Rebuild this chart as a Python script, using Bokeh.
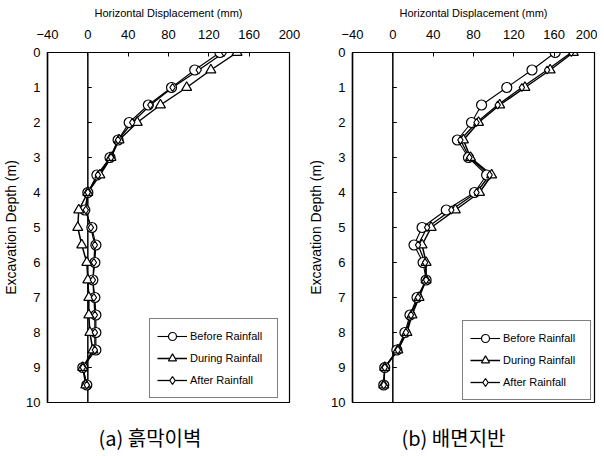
from bokeh.plotting import figure
from bokeh.layouts import row
from bokeh.models import Range1d, FixedTicker, Span, Legend, LegendItem
from bokeh.embed import file_html
from bokeh.resources import INLINE

# ---- data ----
depth = [0, 0.5, 1, 1.5, 2, 2.5, 3, 3.5, 4, 4.5, 5, 5.5, 6, 6.5, 7, 7.5, 8, 8.5, 9, 9.5]

before_a = [131, 106, 83, 60, 41, 30, 22, 9, 0, -3, 4, 8, 7, 5, 7, 8, 8, 8, -5, -1]
during_a = [148, 122, 98, 72, 49, 31, 23, 12, 0, -9, -10, -6, -1, 0, 1, 1, 2, 5, -5, -2]
after_a = [135, 110, 84, 62, 44, 30, 23, 10, 0, -2, 3, 7, 6, 5, 6, 7, 7, 7, -5, -1]

before_b = [161, 138, 113, 88, 78, 64, 75, 93, 81, 53, 29, 21, 30, 33, 24, 17, 12, 4, -8, -9]
during_b = [179, 156, 131, 106, 85, 70, 77, 98, 86, 62, 38, 29, 33, 33, 26, 19, 14, 5, -8, -9]
after_b = [177, 153, 128, 104, 83, 67, 76, 96, 83, 58, 34, 25, 32, 33, 25, 18, 13, 5, -8, -9]

x_ticks = [-40, 0, 40, 80, 120, 160, 200]
y_ticks = [0, 1, 2, 3, 4, 5, 6, 7, 8, 9, 10]
series_labels = ["Before Rainfall", "During Rainfall", "After Rainfall"]
captions = ["(a) 흙막이벽", "(b) 배면지반"]

FONT = "Liberation Sans"


def make_panel(before, during, after, caption, border_left, border_right,
               legend_loc, title_offset):
    p = figure(frame_width=242, frame_height=350,
               x_range=Range1d(-40, 200), y_range=Range1d(10, 0),
               x_axis_location="above",
               output_backend="svg", toolbar_location=None,
               title=caption, title_location="below",
               min_border_left=border_left, min_border_right=border_right,
               min_border_top=52, min_border_bottom=0)
    p.background_fill_color = "white"
    p.border_fill_color = "white"
    p.outline_line_color = "black"
    p.outline_line_width = 1.2
    p.xgrid.visible = False
    p.ygrid.visible = False

    # caption below the frame
    p.title.align = "left"
    p.title.offset = title_offset
    p.title.text_font = "Noto Sans CJK KR"
    p.title.text_font_size = "20px"
    p.title.text_font_style = "normal"
    p.title.text_color = "black"
    p.title.standoff = 37

    xa = p.xaxis[0]
    xa.ticker = FixedTicker(ticks=x_ticks)
    xa.axis_label = "Horizontal Displacement (mm)"
    xa.axis_label_text_font = FONT
    xa.axis_label_text_font_size = "11px"
    xa.axis_label_text_font_style = "normal"
    xa.axis_label_text_color = "black"
    xa.axis_label_standoff = 8
    xa.major_label_text_font = FONT
    xa.major_label_text_font_size = "13px"
    xa.major_label_text_color = "black"
    xa.major_label_standoff = 14
    xa.major_tick_in = 4
    xa.major_tick_out = 0
    xa.minor_tick_in = 0
    xa.minor_tick_out = 0
    xa.axis_line_color = "black"
    xa.major_tick_line_color = "black"

    ya = p.yaxis[0]
    ya.ticker = FixedTicker(ticks=y_ticks)
    ya.axis_label = "Excavation Depth (m)"
    ya.axis_label_text_font = FONT
    ya.axis_label_text_font_size = "14px"
    ya.axis_label_text_font_style = "normal"
    ya.axis_label_text_color = "black"
    ya.axis_label_standoff = 4
    ya.major_label_text_font = FONT
    ya.major_label_text_font_size = "13px"
    ya.major_label_text_color = "black"
    ya.major_label_standoff = 7
    ya.major_tick_in = 0
    ya.major_tick_out = 0
    ya.minor_tick_in = 0
    ya.minor_tick_out = 0
    ya.axis_line_color = "black"
    ya.axis_line_width = 1.5

    # zero line with ticks pointing right
    p.add_layout(Span(location=0, dimension="height", line_color="black",
                      line_width=1.5, level="underlay"))
    p.segment(x0=[0] * len(y_ticks), y0=y_ticks,
              x1=[4] * len(y_ticks), y1=y_ticks,
              line_color="black", line_width=1.2)

    lb = p.line(before, depth, line_color="black", line_width=1.1)
    ld = p.line(during, depth, line_color="black", line_width=1.5)
    la = p.line(after, depth, line_color="black", line_width=1.3)
    sb = p.scatter(before, depth, marker="circle", size=10,
                   fill_color="white", line_color="black", line_width=1.2)
    sd = p.scatter(during, depth, marker="triangle", size=10,
                   fill_color="white", line_color="black", line_width=1.2)
    sa = p.scatter(after, depth, marker="diamond", size=8,
                   fill_color="white", line_color="black", line_width=1.2)

    legend = Legend(items=[
        LegendItem(label=series_labels[0], renderers=[lb, sb]),
        LegendItem(label=series_labels[1], renderers=[ld, sd]),
        LegendItem(label=series_labels[2], renderers=[la, sa]),
    ], location=legend_loc)
    legend.border_line_color = "black"
    legend.border_line_width = 1.2
    legend.background_fill_color = "white"
    legend.background_fill_alpha = 1
    legend.label_text_font = FONT
    legend.label_text_font_size = "11px"
    legend.label_text_color = "black"
    legend.label_standoff = 3
    legend.glyph_width = 30
    legend.glyph_height = 20
    legend.label_height = 20
    legend.label_width = 80
    legend.spacing = 2
    legend.padding = 7
    legend.margin = 0
    p.add_layout(legend, "center")
    return p


p1 = make_panel(before_a, during_a, after_a, captions[0], 38, 12, (102, 4), 51)
p2 = make_panel(before_b, during_b, after_b, captions[1], 51, 3, (110, 2), 49)

layout = row(p1, p2)
open("out.html", "w").write(file_html(layout, INLINE))
